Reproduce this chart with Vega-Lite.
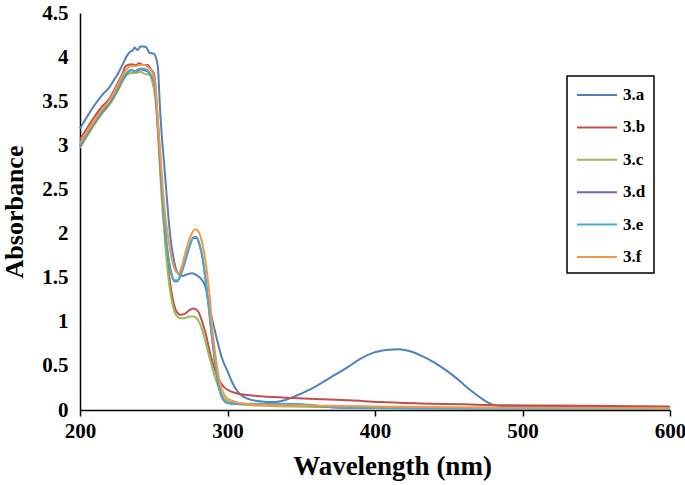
{
  "$schema": "https://vega.github.io/schema/vega-lite/v6.json",
  "width": 590,
  "height": 397,
  "autosize": {"type": "none"},
  "padding": {"left": 80, "top": 13, "right": 15, "bottom": 75},
  "background": "white",
  "config": {"view": {"stroke": null}, "font": "Liberation Serif"},
  "datasets": {
    "spectra": [
      {"s":"3.a","w":200,"a":3.19},{"s":"3.a","w":205,"a":3.33},{"s":"3.a","w":210,"a":3.46},{"s":"3.a","w":215,"a":3.57},{"s":"3.a","w":220,"a":3.66},{"s":"3.a","w":223,"a":3.74},{"s":"3.a","w":226,"a":3.82},{"s":"3.a","w":229,"a":3.92},{"s":"3.a","w":232,"a":4.02},{"s":"3.a","w":234,"a":4.06},{"s":"3.a","w":236,"a":4.08},{"s":"3.a","w":237,"a":4.11},{"s":"3.a","w":239,"a":4.08},{"s":"3.a","w":241,"a":4.12},{"s":"3.a","w":243,"a":4.12},{"s":"3.a","w":245,"a":4.11},{"s":"3.a","w":247,"a":4.05},{"s":"3.a","w":250,"a":4.04},{"s":"3.a","w":252,"a":3.96},{"s":"3.a","w":253,"a":3.85},{"s":"3.a","w":254,"a":3.5},{"s":"3.a","w":255.5,"a":3.1},{"s":"3.a","w":257,"a":2.8},{"s":"3.a","w":259,"a":2.38},{"s":"3.a","w":261,"a":2.0},{"s":"3.a","w":263,"a":1.76},{"s":"3.a","w":265,"a":1.6},{"s":"3.a","w":267,"a":1.54},{"s":"3.a","w":270,"a":1.52},{"s":"3.a","w":273,"a":1.54},{"s":"3.a","w":276,"a":1.55},{"s":"3.a","w":279,"a":1.53},{"s":"3.a","w":282,"a":1.49},{"s":"3.a","w":285,"a":1.4},{"s":"3.a","w":288,"a":1.15},{"s":"3.a","w":291,"a":0.93},{"s":"3.a","w":293,"a":0.79},{"s":"3.a","w":296,"a":0.6},{"s":"3.a","w":300,"a":0.44},{"s":"3.a","w":303,"a":0.32},{"s":"3.a","w":306,"a":0.23},{"s":"3.a","w":310,"a":0.16},{"s":"3.a","w":315,"a":0.12},{"s":"3.a","w":322,"a":0.1},{"s":"3.a","w":330,"a":0.09},{"s":"3.a","w":336,"a":0.1},{"s":"3.a","w":345,"a":0.15},{"s":"3.a","w":358,"a":0.25},{"s":"3.a","w":370,"a":0.37},{"s":"3.a","w":381,"a":0.48},{"s":"3.a","w":390,"a":0.58},{"s":"3.a","w":399,"a":0.65},{"s":"3.a","w":408,"a":0.68},{"s":"3.a","w":416,"a":0.69},{"s":"3.a","w":425,"a":0.66},{"s":"3.a","w":432,"a":0.61},{"s":"3.a","w":440,"a":0.54},{"s":"3.a","w":449,"a":0.44},{"s":"3.a","w":456,"a":0.35},{"s":"3.a","w":462,"a":0.26},{"s":"3.a","w":469,"a":0.17},{"s":"3.a","w":476,"a":0.09},{"s":"3.a","w":482,"a":0.05},{"s":"3.a","w":490,"a":0.04},{"s":"3.a","w":520,"a":0.04},{"s":"3.a","w":560,"a":0.035},{"s":"3.a","w":600,"a":0.03},

      {"s":"3.b","w":200,"a":3.07},{"s":"3.b","w":205,"a":3.2},{"s":"3.b","w":210,"a":3.33},{"s":"3.b","w":215,"a":3.44},{"s":"3.b","w":220,"a":3.53},{"s":"3.b","w":223,"a":3.62},{"s":"3.b","w":226,"a":3.72},{"s":"3.b","w":229,"a":3.82},{"s":"3.b","w":231,"a":3.9},{"s":"3.b","w":235,"a":3.92},{"s":"3.b","w":238,"a":3.91},{"s":"3.b","w":240,"a":3.93},{"s":"3.b","w":243,"a":3.91},{"s":"3.b","w":246,"a":3.91},{"s":"3.b","w":248,"a":3.86},{"s":"3.b","w":250,"a":3.82},{"s":"3.b","w":251,"a":3.7},{"s":"3.b","w":252,"a":3.4},{"s":"3.b","w":253.5,"a":3.0},{"s":"3.b","w":255,"a":2.6},{"s":"3.b","w":257,"a":2.15},{"s":"3.b","w":259,"a":1.75},{"s":"3.b","w":261,"a":1.45},{"s":"3.b","w":263,"a":1.25},{"s":"3.b","w":265,"a":1.13},{"s":"3.b","w":268,"a":1.08},{"s":"3.b","w":271,"a":1.09},{"s":"3.b","w":274,"a":1.13},{"s":"3.b","w":277,"a":1.15},{"s":"3.b","w":280,"a":1.12},{"s":"3.b","w":283,"a":0.99},{"s":"3.b","w":285,"a":0.88},{"s":"3.b","w":288,"a":0.66},{"s":"3.b","w":291,"a":0.48},{"s":"3.b","w":294,"a":0.35},{"s":"3.b","w":297,"a":0.27},{"s":"3.b","w":300,"a":0.23},{"s":"3.b","w":306,"a":0.19},{"s":"3.b","w":320,"a":0.16},{"s":"3.b","w":340,"a":0.14},{"s":"3.b","w":360,"a":0.125},{"s":"3.b","w":383,"a":0.11},{"s":"3.b","w":403,"a":0.09},{"s":"3.b","w":430,"a":0.075},{"s":"3.b","w":460,"a":0.065},{"s":"3.b","w":483,"a":0.055},{"s":"3.b","w":520,"a":0.05},{"s":"3.b","w":560,"a":0.045},{"s":"3.b","w":600,"a":0.04},

      {"s":"3.c","w":200,"a":2.97},{"s":"3.c","w":205,"a":3.11},{"s":"3.c","w":210,"a":3.24},{"s":"3.c","w":215,"a":3.36},{"s":"3.c","w":220,"a":3.46},{"s":"3.c","w":223,"a":3.54},{"s":"3.c","w":226,"a":3.63},{"s":"3.c","w":229,"a":3.73},{"s":"3.c","w":232,"a":3.8},{"s":"3.c","w":235,"a":3.82},{"s":"3.c","w":238,"a":3.82},{"s":"3.c","w":241,"a":3.83},{"s":"3.c","w":244,"a":3.81},{"s":"3.c","w":247,"a":3.8},{"s":"3.c","w":249,"a":3.72},{"s":"3.c","w":250.5,"a":3.6},{"s":"3.c","w":252,"a":3.35},{"s":"3.c","w":253.5,"a":2.95},{"s":"3.c","w":255,"a":2.5},{"s":"3.c","w":257,"a":2.05},{"s":"3.c","w":259,"a":1.65},{"s":"3.c","w":261,"a":1.36},{"s":"3.c","w":263,"a":1.18},{"s":"3.c","w":265,"a":1.08},{"s":"3.c","w":268,"a":1.04},{"s":"3.c","w":271,"a":1.04},{"s":"3.c","w":274,"a":1.06},{"s":"3.c","w":277,"a":1.06},{"s":"3.c","w":280,"a":1.02},{"s":"3.c","w":283,"a":0.9},{"s":"3.c","w":285,"a":0.78},{"s":"3.c","w":288,"a":0.58},{"s":"3.c","w":291,"a":0.4},{"s":"3.c","w":293,"a":0.3},{"s":"3.c","w":296,"a":0.18},{"s":"3.c","w":300,"a":0.1},{"s":"3.c","w":305,"a":0.07},{"s":"3.c","w":320,"a":0.05},{"s":"3.c","w":360,"a":0.035},{"s":"3.c","w":400,"a":0.03},{"s":"3.c","w":500,"a":0.02},{"s":"3.c","w":600,"a":0.015},

      {"s":"3.d","w":200,"a":2.99},{"s":"3.d","w":205,"a":3.13},{"s":"3.d","w":210,"a":3.26},{"s":"3.d","w":215,"a":3.38},{"s":"3.d","w":220,"a":3.48},{"s":"3.d","w":223,"a":3.56},{"s":"3.d","w":226,"a":3.65},{"s":"3.d","w":229,"a":3.75},{"s":"3.d","w":232,"a":3.82},{"s":"3.d","w":235,"a":3.85},{"s":"3.d","w":238,"a":3.84},{"s":"3.d","w":241,"a":3.86},{"s":"3.d","w":244,"a":3.85},{"s":"3.d","w":247,"a":3.82},{"s":"3.d","w":250,"a":3.73},{"s":"3.d","w":251.5,"a":3.54},{"s":"3.d","w":253,"a":3.19},{"s":"3.d","w":254.5,"a":2.79},{"s":"3.d","w":256,"a":2.39},{"s":"3.d","w":258,"a":1.99},{"s":"3.d","w":260,"a":1.71},{"s":"3.d","w":262,"a":1.54},{"s":"3.d","w":264,"a":1.46},{"s":"3.d","w":266,"a":1.46},{"s":"3.d","w":268,"a":1.52},{"s":"3.d","w":271,"a":1.67},{"s":"3.d","w":274,"a":1.84},{"s":"3.d","w":277,"a":1.95},{"s":"3.d","w":279,"a":1.95},{"s":"3.d","w":281,"a":1.87},{"s":"3.d","w":283,"a":1.73},{"s":"3.d","w":285,"a":1.49},{"s":"3.d","w":287,"a":1.21},{"s":"3.d","w":289,"a":0.89},{"s":"3.d","w":291,"a":0.61},{"s":"3.d","w":293,"a":0.37},{"s":"3.d","w":295,"a":0.2},{"s":"3.d","w":297,"a":0.12},{"s":"3.d","w":300,"a":0.08},{"s":"3.d","w":305,"a":0.07},{"s":"3.d","w":320,"a":0.065},{"s":"3.d","w":340,"a":0.065},{"s":"3.d","w":355,"a":0.055},{"s":"3.d","w":365,"a":0.04},{"s":"3.d","w":380,"a":0.025},{"s":"3.d","w":420,"a":0.02},{"s":"3.d","w":500,"a":0.015},{"s":"3.d","w":600,"a":0.01},

      {"s":"3.e","w":200,"a":3.0},{"s":"3.e","w":205,"a":3.14},{"s":"3.e","w":210,"a":3.27},{"s":"3.e","w":215,"a":3.39},{"s":"3.e","w":220,"a":3.49},{"s":"3.e","w":223,"a":3.57},{"s":"3.e","w":226,"a":3.66},{"s":"3.e","w":229,"a":3.76},{"s":"3.e","w":232,"a":3.83},{"s":"3.e","w":235,"a":3.86},{"s":"3.e","w":237,"a":3.83},{"s":"3.e","w":239,"a":3.86},{"s":"3.e","w":242,"a":3.87},{"s":"3.e","w":245,"a":3.86},{"s":"3.e","w":248,"a":3.8},{"s":"3.e","w":250,"a":3.74},{"s":"3.e","w":251.5,"a":3.55},{"s":"3.e","w":253,"a":3.2},{"s":"3.e","w":254.5,"a":2.8},{"s":"3.e","w":256,"a":2.4},{"s":"3.e","w":258,"a":2.0},{"s":"3.e","w":260,"a":1.72},{"s":"3.e","w":262,"a":1.55},{"s":"3.e","w":264,"a":1.47},{"s":"3.e","w":266,"a":1.47},{"s":"3.e","w":268,"a":1.53},{"s":"3.e","w":271,"a":1.68},{"s":"3.e","w":274,"a":1.85},{"s":"3.e","w":277,"a":1.96},{"s":"3.e","w":279,"a":1.96},{"s":"3.e","w":281,"a":1.88},{"s":"3.e","w":283,"a":1.74},{"s":"3.e","w":285,"a":1.5},{"s":"3.e","w":287,"a":1.22},{"s":"3.e","w":289,"a":0.9},{"s":"3.e","w":291,"a":0.62},{"s":"3.e","w":293,"a":0.38},{"s":"3.e","w":295,"a":0.2},{"s":"3.e","w":297,"a":0.12},{"s":"3.e","w":300,"a":0.08},{"s":"3.e","w":305,"a":0.07},{"s":"3.e","w":320,"a":0.07},{"s":"3.e","w":340,"a":0.07},{"s":"3.e","w":355,"a":0.06},{"s":"3.e","w":365,"a":0.04},{"s":"3.e","w":380,"a":0.025},{"s":"3.e","w":420,"a":0.02},{"s":"3.e","w":500,"a":0.015},{"s":"3.e","w":600,"a":0.01},

      {"s":"3.f","w":200,"a":3.03},{"s":"3.f","w":205,"a":3.16},{"s":"3.f","w":210,"a":3.29},{"s":"3.f","w":215,"a":3.41},{"s":"3.f","w":220,"a":3.51},{"s":"3.f","w":223,"a":3.6},{"s":"3.f","w":226,"a":3.7},{"s":"3.f","w":229,"a":3.8},{"s":"3.f","w":232,"a":3.87},{"s":"3.f","w":235,"a":3.9},{"s":"3.f","w":238,"a":3.9},{"s":"3.f","w":241,"a":3.91},{"s":"3.f","w":244,"a":3.91},{"s":"3.f","w":247,"a":3.87},{"s":"3.f","w":249,"a":3.83},{"s":"3.f","w":251,"a":3.71},{"s":"3.f","w":252,"a":3.5},{"s":"3.f","w":253,"a":3.25},{"s":"3.f","w":254.5,"a":2.9},{"s":"3.f","w":256,"a":2.55},{"s":"3.f","w":257.5,"a":2.25},{"s":"3.f","w":259,"a":2.04},{"s":"3.f","w":261,"a":1.82},{"s":"3.f","w":263,"a":1.66},{"s":"3.f","w":265,"a":1.57},{"s":"3.f","w":267,"a":1.55},{"s":"3.f","w":269,"a":1.63},{"s":"3.f","w":272,"a":1.82},{"s":"3.f","w":275,"a":1.97},{"s":"3.f","w":278,"a":2.05},{"s":"3.f","w":280,"a":2.03},{"s":"3.f","w":282,"a":1.95},{"s":"3.f","w":284,"a":1.8},{"s":"3.f","w":286,"a":1.57},{"s":"3.f","w":288,"a":1.27},{"s":"3.f","w":290,"a":0.88},{"s":"3.f","w":292,"a":0.6},{"s":"3.f","w":294,"a":0.38},{"s":"3.f","w":296,"a":0.24},{"s":"3.f","w":298,"a":0.17},{"s":"3.f","w":300,"a":0.13},{"s":"3.f","w":304,"a":0.1},{"s":"3.f","w":308,"a":0.08},{"s":"3.f","w":320,"a":0.06},{"s":"3.f","w":350,"a":0.05},{"s":"3.f","w":400,"a":0.04},{"s":"3.f","w":450,"a":0.03},{"s":"3.f","w":500,"a":0.025},{"s":"3.f","w":600,"a":0.02}
    ]
  },
  "data": {"name": "spectra"},
  "mark": {"type": "line", "strokeWidth": 2, "interpolate": "monotone"},
  "encoding": {
    "x": {
      "field": "w",
      "type": "quantitative",
      "scale": {"domain": [200, 600], "nice": false, "zero": false},
      "axis": {
        "values": [200, 300, 400, 500, 600],
        "title": "Wavelength (nm)",
        "grid": false,
        "domainColor": "black",
        "domainWidth": 1.5,
        "tickColor": "black",
        "tickWidth": 1.5,
        "tickSize": 6,
        "labelFont": "Liberation Serif",
        "labelFontWeight": "bold",
        "labelFontSize": 21,
        "labelColor": "black",
        "labelPadding": 4,
        "labelFlush": false,
        "titleFont": "Liberation Serif",
        "titleFontSize": 27,
        "titleFontWeight": "bold",
        "titleColor": "black",
        "titlePadding": 12,
        "titleX": 312,
        "titleAlign": "center",
        "titleAnchor": "start"
      }
    },
    "y": {
      "field": "a",
      "type": "quantitative",
      "scale": {"domain": [0, 4.5], "nice": false},
      "axis": {
        "values": [0, 0.5, 1, 1.5, 2, 2.5, 3, 3.5, 4, 4.5],
        "labelExpr": "'' + datum.value",
        "title": "Absorbance",
        "grid": false,
        "ticks": false,
        "domainColor": "black",
        "domainWidth": 1.5,
        "labelFont": "Liberation Serif",
        "labelFontWeight": "bold",
        "labelFontSize": 21,
        "labelColor": "black",
        "labelPadding": 12,
        "titleFont": "Liberation Serif",
        "titleFontSize": 26,
        "titleFontWeight": "bold",
        "titleColor": "black",
        "titlePadding": 14
      }
    },
    "color": {
      "field": "s",
      "type": "nominal",
      "scale": {
        "domain": ["3.a", "3.b", "3.c", "3.d", "3.e", "3.f"],
        "range": ["#4F81BD", "#C0504D", "#9BBB59", "#8064A2", "#4BACC6", "#F79646"]
      },
      "legend": {
        "orient": "none",
        "legendX": 487,
        "legendY": 63,
        "title": null,
        "symbolType": "M-2,0H2",
        "symbolSize": 400,
        "symbolStrokeWidth": 2,
        "symbolOffset": 11,
        "labelFont": "Liberation Serif",
        "labelFontWeight": "bold",
        "labelFontSize": 17,
        "labelColor": "black",
        "labelOffset": 15,
        "strokeColor": "black",
        "padding": 8,
        "rowPadding": 13.4,
        "fillColor": "white",
        "encode": {"legend": {"update": {"strokeWidth": {"value": 1.5}}}}
      }
    }
  }
}
